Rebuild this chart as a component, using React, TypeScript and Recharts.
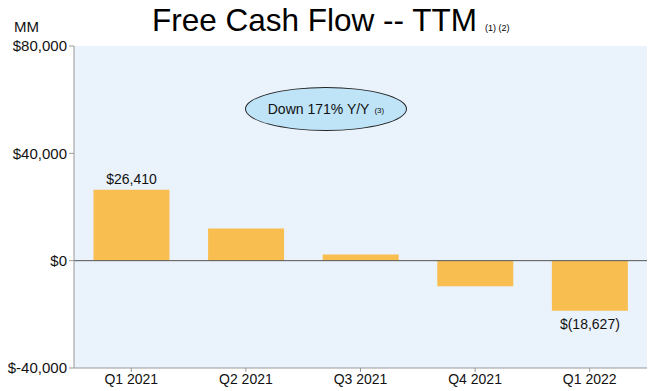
import React from 'react';
import {
  Bar,
  BarChart,
  CartesianGrid,
  LabelList,
  ReferenceLine,
  XAxis,
  YAxis,
} from 'recharts';

// Values in $MM, trailing twelve months
const quarters = ['Q1 2021', 'Q2 2021', 'Q3 2021', 'Q4 2021', 'Q1 2022'];
const fcf = [26410, 12000, 2300, -9500, -18627];
const barLabels = ['$26,410', '', '', '', '$(18,627)'];
const yTicks = [-40000, 0, 40000, 80000];

const data = quarters.map((q, i) => ({ q, value: fcf[i], label: barLabels[i] }));

const FONT = '"Liberation Sans", Arial, sans-serif';
const BAR = '#F8BF50';

function fmtMoney(v: number) {
  const s = Math.abs(v).toLocaleString('en-US');
  return v < 0 ? `$-${s}` : `$${s}`;
}

function BarValueLabel(props: any) {
  const { x, y, width, height, index } = props;
  const text = barLabels[index];
  if (!text) return null;
  const top = Math.min(y, y + height);
  const bottom = Math.max(y, y + height);
  const cx = x + width / 2;
  const ty = fcf[index] >= 0 ? top - 6 : bottom + 18;
  return (
    <text x={cx} y={ty} textAnchor="middle" fontSize={14} fill="#111" fontFamily={FONT}>
      {text}
    </text>
  );
}

export default function App() {
  return (
    <div
      style={{
        position: 'absolute',
        left: 0,
        top: 0,
        width: 656,
        height: 391,
        background: '#fff',
        fontFamily: FONT,
      }}
    >
      <div
        style={{
          position: 'absolute',
          left: 152,
          top: 2,
          fontSize: 31.5,
          color: '#000',
          whiteSpace: 'nowrap',
        }}
      >
        Free Cash Flow -- TTM
        <span style={{ fontSize: 9, marginLeft: 8 }}>(1) (2)</span>
      </div>
      <div style={{ position: 'absolute', left: 14, top: 18, fontSize: 15, color: '#111' }}>MM</div>

      <BarChart
        width={656}
        height={391}
        data={data}
        margin={{ top: 46, right: 9, bottom: 0, left: 0 }}
        barCategoryGap="17%"
      >
        <CartesianGrid horizontal={false} vertical={false} fill="#EAF2FC" />
        <XAxis
          dataKey="q"
          height={23}
          axisLine={{ stroke: '#999' }}
          tickLine={{ stroke: '#999' }}
          tickSize={4}
          tick={{ fontSize: 14, fill: '#111', fontFamily: FONT }}
          interval={0}
        />
        <YAxis
          width={74}
          domain={[-40000, 80000]}
          ticks={yTicks}
          axisLine={{ stroke: '#999' }}
          tickLine={{ stroke: '#999' }}
          tickSize={5}
          tickFormatter={(v) => fmtMoney(v as number)}
          tick={{ fontSize: 15, fill: '#111', fontFamily: FONT }}
        />
        <ReferenceLine y={0} stroke="#555" strokeWidth={1} />
        <Bar dataKey="value" fill={BAR} isAnimationActive={false}>
          <LabelList dataKey="label" content={BarValueLabel} />
        </Bar>
      </BarChart>

      <div
        style={{
          position: 'absolute',
          left: 245,
          top: 87,
          width: 160,
          height: 42,
          borderRadius: '50%',
          border: '1px solid #222',
          background: '#BFE4F8',
          display: 'flex',
          alignItems: 'center',
          justifyContent: 'center',
          fontSize: 14,
          color: '#111',
          whiteSpace: 'nowrap',
        }}
      >
        Down 171% Y/Y<span style={{ fontSize: 8, marginLeft: 5, marginTop: 3 }}>(3)</span>
      </div>
    </div>
  );
}
